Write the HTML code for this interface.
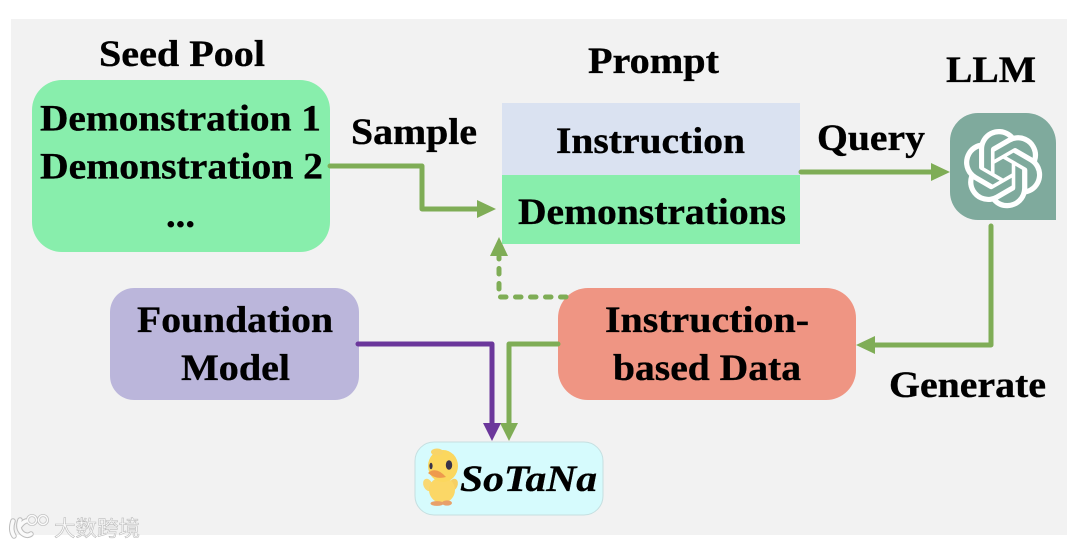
<!DOCTYPE html>
<html><head><meta charset="utf-8">
<style>
html,body{margin:0;padding:0;background:#fff;width:1080px;height:548px;overflow:hidden}
svg{display:block}
text{font-family:"Liberation Serif",serif;font-weight:bold;font-size:37px;fill:#000;stroke:#000;stroke-width:.35px}
text.wm{font-family:"Liberation Sans","Noto Sans CJK SC",sans-serif;font-size:21.5px;font-weight:normal;fill:#fafafa;stroke:#bcbcbc;stroke-width:.6px;letter-spacing:0}
</style></head><body>
<svg width="1080" height="548" viewBox="0 0 1080 548" xmlns="http://www.w3.org/2000/svg">
<rect x="11" y="19" width="1056" height="516" fill="#f2f2f2"/>

<rect x="32" y="80" width="298" height="172" rx="30" fill="#88eeac"/>
<rect x="502" y="103" width="298" height="72" fill="#dae2f1"/>
<rect x="502" y="175" width="298" height="69" fill="#88eeac"/>
<rect x="110" y="288" width="249" height="112" rx="24" fill="#bbb6db"/>
<rect x="558" y="288" width="298" height="112" rx="30" fill="#ef9583"/>
<rect x="415" y="442" width="188" height="73" rx="19" fill="#d6fbfd" stroke="#c5dfe0" stroke-width="1"/>
<path d="M978 113H1026A30 30 0 0 1 1056 143V220H978A28 28 0 0 1 950 192V141A28 28 0 0 1 978 113Z" fill="#7faa9d"/>

<g fill="none" stroke="#7fad56" stroke-width="5" stroke-linecap="round" stroke-linejoin="round">
<path d="M330 166H422V209H482"/>
<path d="M801 172H935"/>
<path d="M991 226V345H872"/>
<path d="M558 344H509V425"/>
<path d="M566 297H499V257" stroke-dasharray="5.500 9.500" stroke-width="5"/>
</g>
<path d="M358 344H492V425" fill="none" stroke="#6b379b" stroke-width="5" stroke-linecap="round" stroke-linejoin="round"/>

<g fill="#7fad56">
<polygon points="496,209 477,200 477,218"/>
<polygon points="950,172 931,163 931,181"/>
<polygon points="856,345 875,336 875,354"/>
<polygon points="509,441 500,423 518,423"/>
<polygon points="499,237 490,256 508,256"/>
</g>
<polygon points="492,441 483,423 501,423" fill="#6b379b"/>

<text x="99" y="66" textLength="166" lengthAdjust="spacingAndGlyphs">Seed Pool</text>
<text x="40" y="130.500" textLength="281" lengthAdjust="spacingAndGlyphs">Demonstration 1</text>
<text x="40" y="178.500" textLength="283" lengthAdjust="spacingAndGlyphs">Demonstration 2</text>
<text x="166" y="227" textLength="29" lengthAdjust="spacingAndGlyphs">...</text>
<text x="351" y="144" textLength="126" lengthAdjust="spacingAndGlyphs">Sample</text>
<text x="588" y="73" textLength="131" lengthAdjust="spacingAndGlyphs">Prompt</text>
<text x="556" y="153" textLength="189" lengthAdjust="spacingAndGlyphs">Instruction</text>
<text x="518" y="224" textLength="268" lengthAdjust="spacingAndGlyphs">Demonstrations</text>
<text x="817" y="150" textLength="108" lengthAdjust="spacingAndGlyphs">Query</text>
<text x="946" y="82" textLength="90" lengthAdjust="spacingAndGlyphs">LLM</text>
<text x="137" y="332" textLength="196" lengthAdjust="spacingAndGlyphs">Foundation</text>
<text x="181" y="380" textLength="109" lengthAdjust="spacingAndGlyphs">Model</text>
<text x="605" y="332" textLength="204" lengthAdjust="spacingAndGlyphs">Instruction-</text>
<text x="613" y="380" textLength="188" lengthAdjust="spacingAndGlyphs">based Data</text>
<text x="889" y="397" textLength="157" lengthAdjust="spacingAndGlyphs">Generate</text>
<text x="460" y="491" textLength="137" lengthAdjust="spacingAndGlyphs" style="font-style:italic">SoTaNa</text>

<!-- knot logo -->
<g transform="translate(963.5 129) scale(3.3)" fill="#fff">
<path d="M22.2819 9.8211a5.9847 5.9847 0 0 0-.5157-4.9108 6.0462 6.0462 0 0 0-6.5098-2.9A6.0651 6.0651 0 0 0 4.9807 4.1818a5.9847 5.9847 0 0 0-3.9977 2.9 6.0462 6.0462 0 0 0 .7427 7.0966 5.98 5.98 0 0 0 .511 4.9107 6.051 6.051 0 0 0 6.5146 2.9001A5.9847 5.9847 0 0 0 13.2599 24a6.0557 6.0557 0 0 0 5.7718-4.2058 5.9894 5.9894 0 0 0 3.9977-2.9001 6.0557 6.0557 0 0 0-.7475-7.0729zm-9.022 12.6081a4.4755 4.4755 0 0 1-2.8764-1.0408l.1419-.0804 4.7783-2.7582a.7948.7948 0 0 0 .3927-.6813v-6.7369l2.02 1.1686a.071.071 0 0 1 .038.052v5.5826a4.504 4.504 0 0 1-4.4945 4.4944zm-9.6607-4.1254a4.4708 4.4708 0 0 1-.5346-3.0137l.142.0852 4.783 2.7582a.7712.7712 0 0 0 .7806 0l5.8428-3.3685v2.3324a.0804.0804 0 0 1-.0332.0615L9.74 19.9502a4.4992 4.4992 0 0 1-6.1408-1.6464zM2.3408 7.8956a4.485 4.485 0 0 1 2.3655-1.9728V11.6a.7664.7664 0 0 0 .3879.6765l5.8144 3.3543-2.0201 1.1685a.0757.0757 0 0 1-.071 0l-4.8303-2.7865A4.504 4.504 0 0 1 2.3408 7.872zm16.5963 3.8558L13.1038 8.364 15.1192 7.2a.0757.0757 0 0 1 .071 0l4.8303 2.7913a4.4944 4.4944 0 0 1-.6765 8.1042v-5.6772a.79.79 0 0 0-.407-.667zm2.0107-3.0231l-.142-.0852-4.7735-2.7818a.7759.7759 0 0 0-.7854 0L9.409 9.2297V6.8974a.0662.0662 0 0 1 .0284-.0615l4.8303-2.7866a4.4992 4.4992 0 0 1 6.6802 4.66zM8.3065 12.863l-2.02-1.1638a.0804.0804 0 0 1-.038-.0567V6.0742a4.4992 4.4992 0 0 1 7.3757-3.4537l-.142.0805L8.704 5.459a.7948.7948 0 0 0-.3927.6813zm1.0976-2.3654l2.602-1.4998 2.6069 1.4998v2.9994l-2.5974 1.4997-2.6067-1.4997Z"/>
</g>

<!-- duck -->
<g>
<ellipse cx="428" cy="485" rx="4.5" ry="6.5" fill="#f9d873" transform="rotate(-25 428 485)"/>
<ellipse cx="453" cy="485" rx="4.5" ry="6.5" fill="#f6cf62" transform="rotate(25 453 485)"/>
<ellipse cx="442" cy="490" rx="13" ry="13" fill="#fbd766"/>
<ellipse cx="443" cy="466" rx="15" ry="16" fill="#fbd75e"/>
<ellipse cx="437" cy="452" rx="6" ry="3.5" fill="#f8d468"/>
<ellipse cx="449" cy="465" rx="3.2" ry="4.8" fill="#38324a"/>
<ellipse cx="431" cy="466" rx="1.6" ry="3.2" fill="#38324a"/>
<path d="M428 473Q436 466 446 477Q436 480 428 473Z" fill="#ee9a4d"/>
<ellipse cx="437" cy="503.500" rx="6.500" ry="2.4" fill="#e8a06a"/>
<ellipse cx="447" cy="503" rx="5" ry="2.6" fill="#e8a06a"/>
</g>

<!-- watermark -->
<g fill="none" stroke-linecap="round">
<path d="M13 521Q10 530 14 536M20 520Q17 528 22 533Q27 537 31 534M20 526Q23 522 26 521" stroke="#bdbdbd" stroke-width="5.500"/>
<circle cx="32" cy="520" r="4.500" stroke="#c4c4c4" stroke-width="3"/>
<circle cx="43" cy="520" r="4.500" stroke="#c4c4c4" stroke-width="3"/>
<path d="M13 521Q10 530 14 536M20 520Q17 528 22 533Q27 537 31 534M20 526Q23 522 26 521" stroke="#fafafa" stroke-width="3.500"/>
<circle cx="32" cy="520" r="4.500" stroke="#fafafa" stroke-width="1.400"/>
<circle cx="43" cy="520" r="4.500" stroke="#fafafa" stroke-width="1.400"/>
</g>
<text class="wm" x="54" y="536">大数跨境</text>
</svg>
</body></html>
